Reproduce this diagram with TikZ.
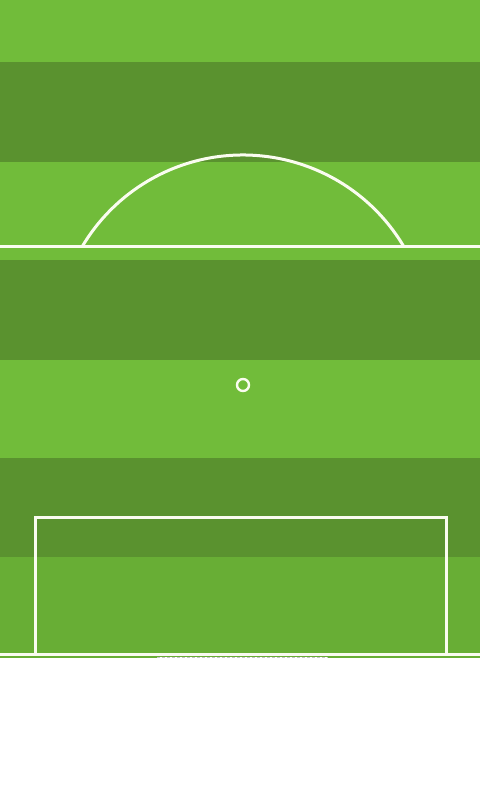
\documentclass[tikz,border=0pt]{standalone}
\usepackage{tikz}
\usetikzlibrary{calc}
\usepackage{xcolor}
\definecolor{grasslight}{RGB}{113,188,58}
\definecolor{grassshade}{RGB}{104,174,53}
\definecolor{grassdark}{RGB}{90,146,47}
\definecolor{chalk}{RGB}{250,252,240}
\tikzset{
  pitchline/.style = {draw=chalk, line width=1.5mm},
  stripe/.style    = {draw=none},
  goalmark/.style  = {draw=gray!45, line width=0.4mm, dash pattern=on 1.5mm off 1mm},
}

\begin{document}
\begin{tikzpicture}[x=0.5mm, y=0.5mm]
  \useasboundingbox (0,0) rectangle (480,800);
  % grass stripes
  \fill[white] (0,0) rectangle (480,142);
  \foreach \lo/\hi/\col in {142/243/grassshade, 243/342/grassdark, 342/440/grasslight,
                            440/540/grassdark, 540/638/grasslight, 638/738/grassdark,
                            738/800/grasslight} {
    \fill[stripe, \col] (0,\lo) rectangle (480,\hi);
  }
  % halfway line and centre arc
  \coordinate (mid) at (243,458);
  \draw[pitchline] (0,553) -- (480,553);
  \draw[pitchline] ($(mid)+(30.5:187)$) arc[start angle=30.5, end angle=149.5, radius=187];
  % penalty spot
  \coordinate (spot) at (243,415);
  \draw[draw=chalk, line width=1.2mm] (spot) circle[radius=6];
  % penalty box and goal line
  \draw[pitchline] (35,145) -- (35,282) -- (446,282) -- (446,145);
  \draw[pitchline] (0,145) -- (480,145);
  \fill[white] (157,140) rectangle (328,143);
  \draw[goalmark] (157,143) -- (328,143);
\end{tikzpicture}
\end{document}
